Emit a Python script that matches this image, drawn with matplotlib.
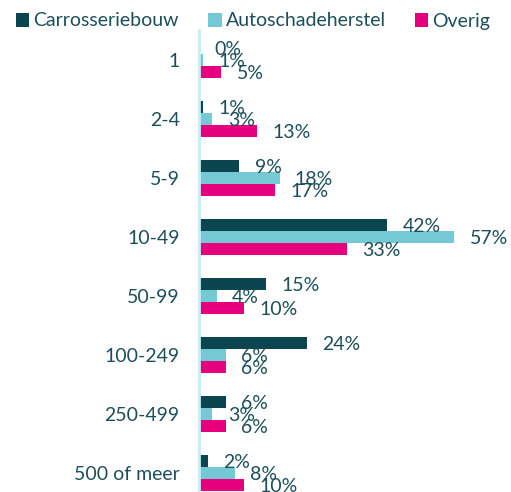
import matplotlib
matplotlib.use("Agg")
import matplotlib.pyplot as plt
import numpy as np

categories = ["1", "2-4", "5-9", "10-49", "50-99", "100-249", "250-499", "500 of meer"]
carrosseriebouw = [0, 1, 9, 42, 15, 24, 6, 2]
autoschadeherstel = [1, 3, 18, 57, 4, 6, 3, 8]
overig = [5, 13, 17, 33, 10, 6, 6, 10]
series_names = ["Carrosseriebouw", "Autoschadeherstel", "Overig"]

colors = ["#0b4650", "#74c9d5", "#e6007e"]
text_color = "#1d4f5a"

plt.rcParams["font.family"] = ["Lato", "DejaVu Sans"]

fig = plt.figure(figsize=(5.11, 4.92), dpi=100)
ax = fig.add_axes([199 / 511, 0.0, 1 - 199 / 511 - 0.01, 1 - 30.5 / 492])

y = np.arange(len(categories))
h = 0.2
fs = 14
for i, (vals, name, c) in enumerate(zip([carrosseriebouw, autoschadeherstel, overig], series_names, colors)):
    pos = y + (i - 1) * h
    bars = ax.barh(pos, vals, height=h, color=c, label=name)
    for p, v in zip(pos, vals):
        ax.annotate(f"{v}%", xy=(v, p), xytext=(11, -1), textcoords="offset points",
                    va="center", ha="left", fontsize=fs, color=text_color)

ax.set_xlim(0, 68.5)
ax.set_ylim(7.32, -0.5)
ax.set_yticks(y)
ax.set_yticklabels(categories, fontsize=fs, color=text_color)
ax.tick_params(axis="y", length=0, pad=14)
ax.set_xticks([])
for s in ["top", "right", "bottom"]:
    ax.spines[s].set_visible(False)
ax.spines["left"].set_color("#c5eef5")
ax.spines["left"].set_linewidth(2)

handles, labels = ax.get_legend_handles_labels()
fig.legend(handles, labels, loc="center", bbox_to_anchor=(0.495, 1 - 21 / 492), ncol=3,
           frameon=False, fontsize=fs, labelcolor=text_color, handlelength=0.7,
           handleheight=0.7, handletextpad=0.2, columnspacing=1.5, borderaxespad=0)

fig.savefig("out.png", dpi=100)
